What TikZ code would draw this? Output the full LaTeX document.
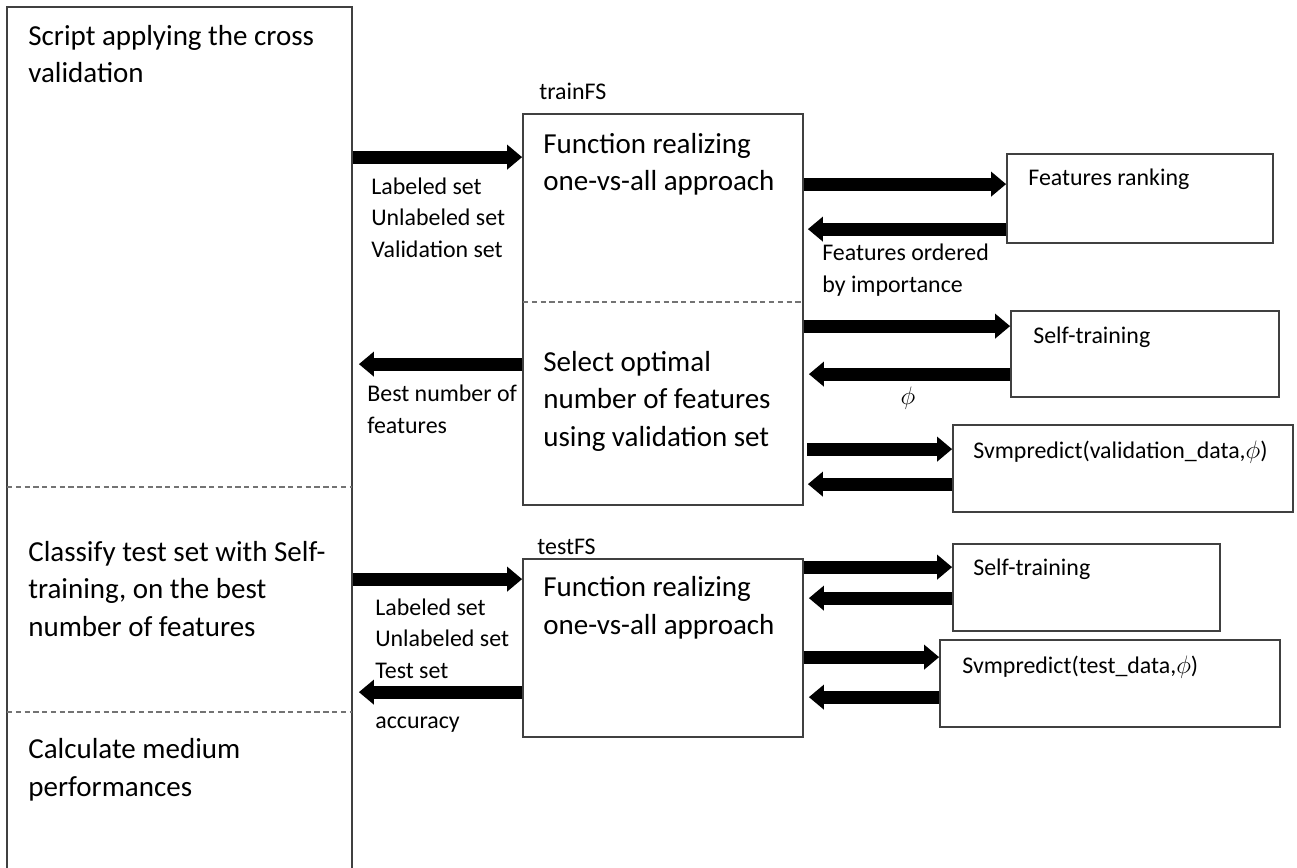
\documentclass[tikz,border=0pt]{standalone}
\usepackage{fontspec}
\setmainfont{Carlito}
\usetikzlibrary{arrows.meta,fit,calc}

\tikzset{
  box/.style={draw=black!75, line width=1pt, inner sep=0pt},
  divider/.style={draw=black!55, dash pattern=on 3pt off 2pt, line width=0.6pt},
  fat/.style={line width=0.26cm, -{Triangle[length=0.3cm,width=0.48cm]}},
  bigtxt/.style={anchor=base west, align=left, inner sep=0pt, font=\fontsize{16.5}{21.3}\selectfont},
  smalltxt/.style={anchor=base west, align=left, inner sep=0pt, font=\fontsize{13.6}{17.8}\selectfont},
}

\begin{document}
\begin{tikzpicture}[x=0.02cm, y=-0.02cm]
  \useasboundingbox (0,0) rectangle (1297,868);
  \clip (0,0) rectangle (1297,868);

  % boxes
  \node[box, fit={(7,7) (352,900)}] (script) {};
  \node[box, fit={(523,114) (803,505)}] (trainFS) {};
  \node[box, fit={(523,559) (803,737)}] (testFS) {};
  \node[box, fit={(1007,154) (1273,243)}] (rank) {};
  \node[box, fit={(1011,311) (1279,397)}] (selftrain) {};
  \node[box, fit={(953,425) (1293,512)}] (svmval) {};
  \node[box, fit={(953,544) (1220,631)}] (selftest) {};
  \node[box, fit={(940,640) (1280,727)}] (svmtest) {};

  \draw[divider] (7,487) -- (352,487);
  \draw[divider] (7,712) -- (352,712);
  \draw[divider] (523,302) -- (803,302);

  % texts (base = baseline of the last line)
  \node[bigtxt] (scriptTxt) at (28,83) {Script applying the cross\\validation};
  \node[bigtxt] (classTxt) at (28,636) {Classify test set with Self-\\training, on the best\\number of features};
  \node[bigtxt] (calcTxt) at (28,796) {Calculate medium\\performances};
  \node[bigtxt] (trainTop) at (543,191) {Function realizing\\one-vs-all approach};
  \node[bigtxt] (trainBot) at (543,446) {Select optimal\\number of features\\using validation set};
  \node[bigtxt] (testTxt) at (543,634) {Function realizing\\one-vs-all approach};

  \node[smalltxt] (trainName) at (539,100) {trainFS};
  \node[smalltxt] (testName) at (537,554) {testFS};
  \node[smalltxt] (rankTxt) at (1028,186) {Features ranking};
  \node[smalltxt] (selftrainTxt) at (1033,343) {Self-training};
  \node[smalltxt] (svmvalTxt) at (973,458) {Svmpredict(validation\_data,$\phi$)};
  \node[smalltxt] (selftestTxt) at (973,575) {Self-training};
  \node[smalltxt] (svmtestTxt) at (962,673) {Svmpredict(test\_data,$\phi$)};

  \node[smalltxt] (trainIn) at (371,257) {Labeled set\\Unlabeled set\\Validation set};
  \node[smalltxt] (bestLbl) at (367,433) {Best number of\\features};
  \node[smalltxt] (orderLbl) at (822,292) {Features ordered\\by importance};
  \node[smalltxt, anchor=center] (phiLbl) at (908,398) {$\phi$};
  \node[smalltxt] (testIn) at (375,678) {Labeled set\\Unlabeled set\\Test set};
  \node[smalltxt] (accLbl) at (375,728) {accuracy};

  % arrows
  \draw[fat] ($(script.east |- trainFS.north)+(0,44)$) -- ($(trainFS.north west)+(0,44)$);
  \draw[fat] ($(trainFS.north west)+(0,251)$) -- ($(script.east |- trainFS.north)+(6,251)$);
  \draw[fat] ($(trainFS.east |- rank.north)+(0,31)$) -- ($(rank.north west)+(0,31)$);
  \draw[fat] ($(rank.north west)+(0,76)$) -- ($(trainFS.east |- rank.north)+(4,76)$);
  \draw[fat] ($(trainFS.east |- selftrain.north)+(0,16)$) -- ($(selftrain.north west)+(0,16)$);
  \draw[fat] ($(selftrain.north west)+(0,64)$) -- ($(trainFS.east |- selftrain.north)+(5,64)$);
  \draw[fat] ($(trainFS.east |- svmval.north)+(3,25)$) -- ($(svmval.north west)+(0,25)$);
  \draw[fat] ($(svmval.north west)+(0,60)$) -- ($(trainFS.east |- svmval.north)+(4,60)$);

  \draw[fat] ($(script.east |- testFS.north)+(0,21)$) -- ($(testFS.north west)+(0,21)$);
  \draw[fat] ($(testFS.north west)+(0,134)$) -- ($(script.east |- testFS.north)+(6,134)$);
  \draw[fat] ($(testFS.east |- selftest.north)+(0,24)$) -- ($(selftest.north west)+(0,24)$);
  \draw[fat] ($(selftest.north west)+(0,55)$) -- ($(testFS.east |- selftest.north)+(5,55)$);
  \draw[fat] ($(testFS.east |- svmtest.north)+(0,18)$) -- ($(svmtest.north west)+(0,18)$);
  \draw[fat] ($(svmtest.north west)+(0,58)$) -- ($(testFS.east |- svmtest.north)+(5,58)$);
\end{tikzpicture}
\end{document}
